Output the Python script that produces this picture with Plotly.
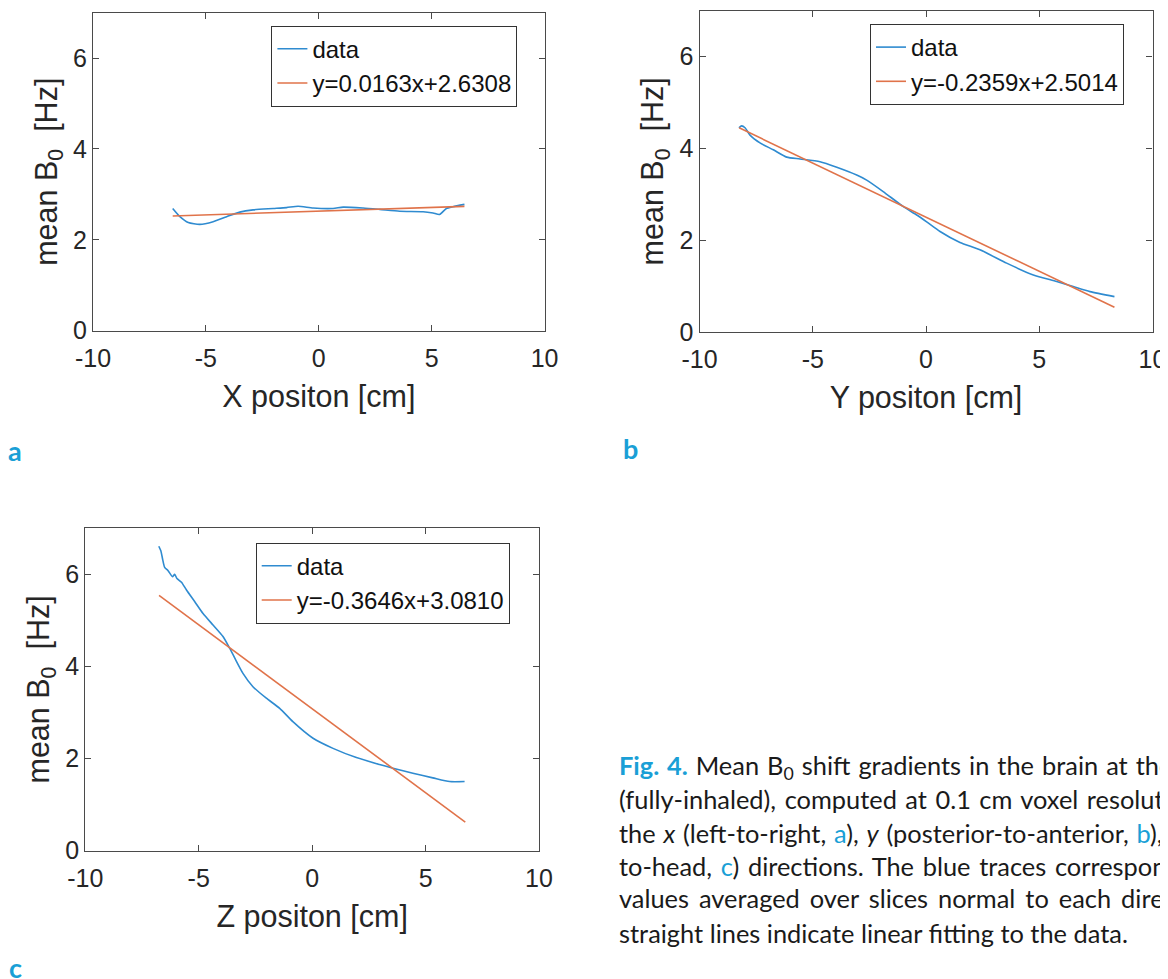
from plotly import graph_objects as go

# panel a: X position
x_pos = [-6.47, -6.15, -5.78, -5.27, -4.68, -4.08, -3.50, -2.91, -2.02, -1.43, -0.92, -0.25,
         0.63, 1.08, 1.96, 2.70, 3.58, 4.62, 5.06, 5.35, 5.65, 5.94, 6.45]
x_b0 = [2.69, 2.51, 2.38, 2.34, 2.40, 2.51, 2.61, 2.66, 2.69, 2.71, 2.74, 2.70,
        2.69, 2.72, 2.70, 2.67, 2.63, 2.62, 2.59, 2.56, 2.69, 2.73, 2.78]
x_fit_x = [-6.47, 6.45]
x_fit_y = [2.525, 2.736]

# panel b: Y position
y_pos = [-8.26, -8.14, -7.99, -7.77, -7.33, -6.74, -6.15, -5.56, -4.68, -3.94, -3.06, -2.62,
         -1.89, -1.00, -0.41, 0.03, 0.62, 1.50, 2.38, 3.56, 4.74, 5.77, 6.50, 7.24, 8.32]
y_b0 = [4.45, 4.49, 4.45, 4.29, 4.12, 3.97, 3.81, 3.77, 3.71, 3.59, 3.42, 3.31,
        3.06, 2.73, 2.55, 2.40, 2.19, 1.95, 1.79, 1.50, 1.24, 1.10, 0.99, 0.88, 0.77]
y_fit_x = [-8.25, 8.32]
y_fit_y = [4.448, 0.539]

# panel c: Z position
z_pos = [-6.76, -6.67, -6.60, -6.50, -6.35, -6.16, -6.06, -5.96, -5.76, -5.54, -5.18, -4.81,
         -4.37, -3.93, -3.63, -3.41, -3.05, -2.61, -2.02, -1.43, -0.85, 0.04, 0.92, 1.95,
         2.97, 3.56, 4.44, 5.32, 6.06, 6.72]
z_b0 = [6.61, 6.51, 6.35, 6.15, 6.08, 5.95, 6.00, 5.91, 5.83, 5.66, 5.41, 5.15,
        4.90, 4.65, 4.39, 4.18, 3.85, 3.56, 3.31, 3.09, 2.80, 2.44, 2.22, 2.02,
        1.87, 1.79, 1.68, 1.58, 1.50, 1.50]
z_fit_x = [-6.75, 6.75]
z_fit_y = [5.542, 0.620]

fit_labels = ["y=0.0163x+2.6308", "y=-0.2359x+2.5014", "y=-0.3646x+3.0810"]
axis_titles = ["X positon [cm]", "Y positon [cm]", "Z positon [cm]"]
panel_letters = ["a", "b", "c"]
x_ticks = [-10, -5, 0, 5, 10]
x_tick_text = ["-10", "-5", "0", "5", "10"]
y_ticks = [0, 2, 4, 6]

W, H = 1168, 979
OFF = 8  # default body margin of the html page
BLUE = "#2f8bd0"
ORANGE = "#e0734a"
CYAN = "#1a9fd6"
FONT = "Liberation Sans, Arial, sans-serif"
CAP_FONT = "Lato, Noto Sans, sans-serif"

def fx(x):
    return (x - OFF) / W

def fy(y):
    return 1 - (y - OFF) / H

# pixel boxes of the three axes on screen: left, right, top, bottom
boxes = [(93, 544.6, 12.7, 330.7), (699.5, 1152.5, 10.7, 332), (85.3, 539, 528.3, 850.6)]
legend_pos = [(271.4, 25.7), (870, 24), (255.7, 542.7)]

series = [(x_pos, x_b0, x_fit_x, x_fit_y), (y_pos, y_b0, y_fit_x, y_fit_y),
          (z_pos, z_b0, z_fit_x, z_fit_y)]

fig = go.Figure()
layout = {}
for i, (px, py, lx_, ly_) in enumerate(series):
    n = "" if i == 0 else str(i + 1)
    leg = "legend" + n
    fig.add_trace(go.Scatter(x=px, y=py, name="data", mode="lines", line_shape="spline",
                             line=dict(color=BLUE, width=1.6, smoothing=0.6),
                             xaxis="x" + n, yaxis="y" + n, legend=leg))
    fig.add_trace(go.Scatter(x=lx_, y=ly_, name=fit_labels[i], mode="lines",
                             line=dict(color=ORANGE, width=1.6),
                             xaxis="x" + n, yaxis="y" + n, legend=leg))
    l, r, t, b = boxes[i]
    common = dict(showgrid=False, zeroline=False, showline=True, mirror="ticks",
                  ticks="inside", ticklen=6, tickcolor="#4a4a4a", linecolor="#4a4a4a",
                  linewidth=1.2, automargin=False,
                  tickfont=dict(family=FONT, size=25, color="#262626"))
    layout["xaxis" + n] = dict(common, domain=[fx(l), fx(r)], range=[-10, 10],
                               tickvals=x_ticks, ticktext=x_tick_text, anchor="y" + n,
                               ticklabelstandoff=5,
                               title=dict(text=axis_titles[i], standoff=14,
                                          font=dict(family=FONT, size=30.5, color="#262626")))
    layout["yaxis" + n] = dict(common, domain=[fy(b), fy(t)], range=[0, 7],
                               tickvals=y_ticks, anchor="x" + n,
                               title=dict(text="mean B<sub>0</sub>  [Hz]", standoff=6,
                                          font=dict(family=FONT, size=30.5, color="#262626")))
    gx, gy = legend_pos[i]
    layout[leg] = dict(x=fx(gx), y=fy(gy), xanchor="left", yanchor="top",
                       bgcolor="white", bordercolor="#333333", borderwidth=1,
                       font=dict(family=FONT, size=24, color="#111111"),
                       tracegroupgap=0, itemwidth=30)

fig.update_layout(**layout)

annotations = []
letter_pos = [(15, 450), (630, 448), (15, 967)]
for (ax, ay), letter in zip(letter_pos, panel_letters):
    annotations.append(dict(x=fx(ax), y=fy(ay), xref="paper", yref="paper",
                            xanchor="center", yanchor="middle",
                            text="<b>" + letter + "</b>", showarrow=False,
                            font=dict(family=CAP_FONT, size=27, color=CYAN)))

def blue(s):
    return "<span style='color:" + CYAN + "'>" + s + "</span>"

caption = [
    blue("<b>Fig. 4.</b>") + " Mean B<sub>0</sub> shift gradients in the brain at the 5th breathing",
    "(fully-inhaled), computed at 0.1 cm voxel resolution along",
    "the <i>x</i> (left-to-right, " + blue("a") + "), <i>y</i> (posterior-to-anterior, "
    + blue("b") + "), and <i>z</i> (feet-",
    "to-head, " + blue("c") + ") directions. The blue traces correspond to the",
    "values averaged over slices normal to each direction, and",
    "straight lines indicate linear fitting to the data.",
]
cap_base = [774.7, 807.3, 840.7, 874, 906.3, 940.7]
cap_spacing = [1.5, 2, 1.3, 2.2, 3.5, 0]  # justified lines get wider word gaps
for line, base, ws in zip(caption, cap_base, cap_spacing):
    text = "<span style='word-spacing:" + str(ws) + "px'>" + line + "</span>"
    annotations.append(dict(x=fx(618), y=fy(base - 8), xref="paper", yref="paper",
                            xanchor="left", yanchor="middle", text=text, showarrow=False,
                            align="left", borderpad=0,
                            font=dict(family=CAP_FONT, size=25.4, color="#1a1a1a")))

fig.update_layout(width=W, height=H, margin=dict(l=0, r=0, t=0, b=0),
                  paper_bgcolor="white", plot_bgcolor="white", showlegend=True,
                  annotations=annotations)

fig.write_html("out.html")
